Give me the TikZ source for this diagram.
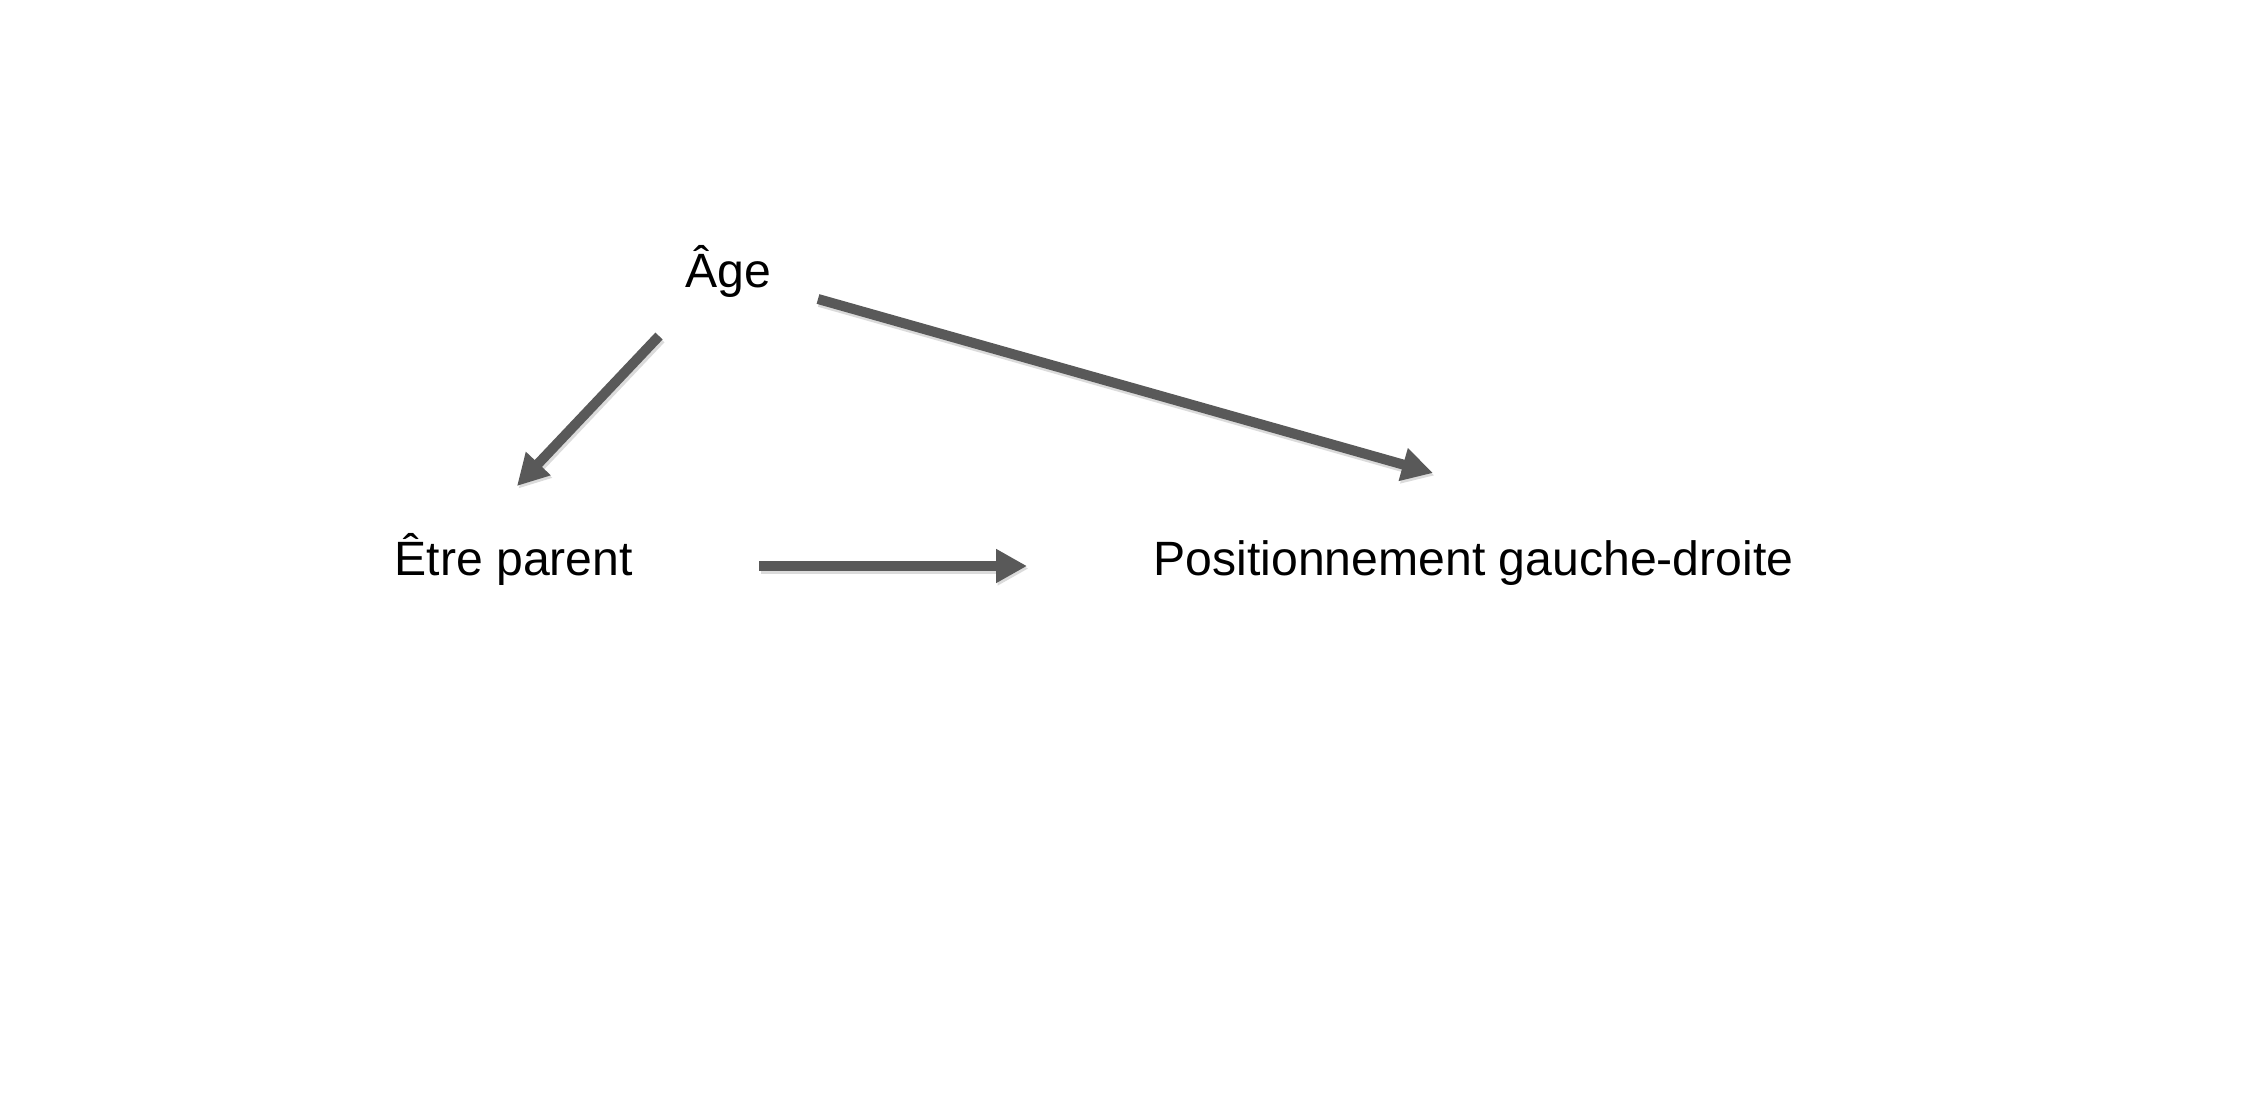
\documentclass[tikz,border=0pt]{standalone}
\usepackage{fontspec}
\setmainfont{Liberation Sans}
\usetikzlibrary{arrows.meta}
\definecolor{gris}{HTML}{595959}

\begin{document}
\begin{tikzpicture}[>={Triangle[length=3.1mm,width=3.2mm]},
    lbl/.style={anchor=base west,inner sep=0pt,font=\fontsize{13.7}{16}\selectfont},
    fleche/.style={->,draw=gris,line width=1mm,
        preaction={draw=black!14,line width=1.1mm,transform canvas={shift={(0.015,-0.025)}}}}]
            \useasboundingbox (0,0) rectangle (22.5,11.1);
            \node[lbl] (age) at (6.85,8.23) {Âge};
            \node[lbl] (parent) at (3.94,5.35) {Être parent};
            \node[lbl] (pos) at (11.53,5.35) {Positionnement gauche-droite};
            % bouts des fleches
            \coordinate (ageA) at (6.59,7.74);
            \coordinate (parentA) at (5.17,6.24);
            \coordinate (ageB) at (8.18,8.11);
            \coordinate (posB) at (14.33,6.37);
            \coordinate (parentC) at (7.59,5.44);
            \coordinate (posC) at (10.27,5.44);
            \draw[fleche] (ageA)--(parentA);
            \draw[fleche] (ageB)--(posB);
            \draw[fleche] (parentC)--(posC);
        \end{tikzpicture}
\end{document}
